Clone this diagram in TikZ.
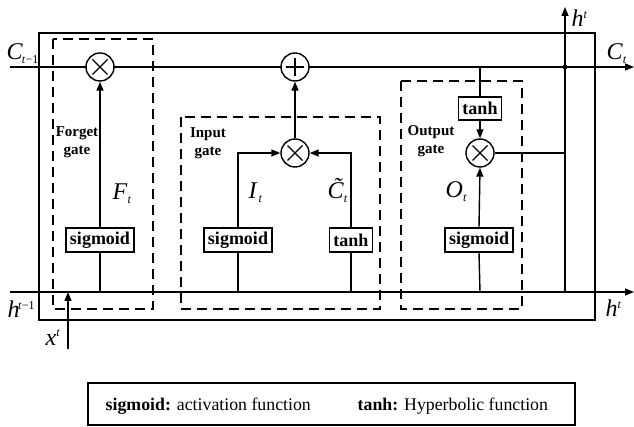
\documentclass[tikz,border=0pt]{standalone}
\usepackage{fontspec}
\setmainfont{Liberation Serif}
\usetikzlibrary{arrows.meta}
\newcommand{\subfont}{\fontsize{12}{12}\selectfont}
\newcommand{\ctilde}{\makebox[0pt][l]{\kern0.24em\raisebox{0.2em}{\textit{˜}}}\textit{C}}
\begin{document}
\begin{tikzpicture}[x=1pt,y=-1pt, line width=1.4pt,
  sbox/.style={draw, fill=white, font=\bfseries\fontsize{18}{18}\selectfont, inner xsep=4pt, inner ysep=0pt, minimum height=24pt},
  mult/.style={circle, draw, fill=white, minimum size=28pt, inner sep=0pt,
    path picture={\draw[line width=1.1pt]
      ([shift={(-7.5pt,-7.5pt)}]path picture bounding box.center) -- ([shift={(7.5pt,7.5pt)}]path picture bounding box.center)
      ([shift={(-7.5pt,7.5pt)}]path picture bounding box.center) -- ([shift={(7.5pt,-7.5pt)}]path picture bounding box.center);}},
  addc/.style={circle, draw, fill=white, minimum size=28pt, inner sep=0pt,
    path picture={\draw[line width=1.1pt]
      ([shift={(-9pt,0pt)}]path picture bounding box.center) -- ([shift={(9pt,0pt)}]path picture bounding box.center)
      ([shift={(0pt,-9pt)}]path picture bounding box.center) -- ([shift={(0pt,9pt)}]path picture bounding box.center);}},
  arr/.style={-{Triangle[length=9pt,width=7pt]}},
  gbox/.style={dash pattern=on 10pt off 6pt, line width=1.6pt},
  glabel/.style={font=\bfseries\fontsize{15}{18}\selectfont, align=center, inner sep=0pt},
  lbl/.style={font=\fontsize{24}{26}\selectfont, inner sep=0pt, anchor=base west},
  legtxt/.style={font=\fontsize{17.8}{18}\selectfont, inner sep=0pt, anchor=base west}
]
\useasboundingbox (0,0) rectangle (634,427);

% outer box
\draw (39,33) rectangle (595,320);

% gate boxes (dashed)
\draw[gbox] (53,39) rectangle (153,309);
\draw[gbox] (181,117) rectangle (380,309);
\draw[gbox] (401,81) rectangle (522,309);

% coordinates
\coordinate (cin) at (10,67);
\coordinate (cout) at (634,67);
\coordinate (hin) at (10,292);
\coordinate (hout) at (634,292);
\coordinate (fb) at (100,292);
\coordinate (ib) at (238,292);
\coordinate (tb) at (351,292);
\coordinate (ob) at (480,292);
\coordinate (oc) at (480,67);
\coordinate (hb) at (565,292);
\coordinate (hj) at (565,153);
\coordinate (htop) at (565,7);
\coordinate (xb) at (68,349);
\coordinate (xt) at (68,292);

% main lines
\draw[arr] (cin) -- (cout);
\draw[arr] (hin) -- (hout);

% nodes
\node[mult] (fx) at (100,67) {};
\node[addc] (plus) at (295,67) {};
\node[mult] (ix) at (295,153) {};
\node[mult] (ox) at (480,153) {};
\node[sbox] (fs) at (100,240) {sigmoid};
\node[sbox] (is) at (238,240) {sigmoid};
\node[sbox] (ts) at (351,240) {tanh};
\node[sbox] (os) at (479,240) {sigmoid};
\node[sbox, minimum height=23pt] (ot) at (480,108.5) {tanh};
\node[circle, fill, inner sep=0pt, minimum size=5pt] (jd) at (565,67) {};

% forget gate
\draw (fb) -- (fs.south);
\draw[arr] (fs.north) -- (fx.south);

% input gate
\draw (ib) -- (is.south);
\draw[arr] (is.north) |- (ix.west);
\draw (tb) -- (ts.south);
\draw[arr] (ts.north) |- (ix.east);
\draw[arr] (ix.north) -- (plus.south);

% output gate
\draw (oc) -- (ot.north);
\draw[arr] (ot.south) -- (ox.north);
\draw (ob) -- (os.south);
\draw[arr] (os.north) -- (ox.south);
\draw (ox.east) -- (hj);

% h^t output
\draw[arr] (hb) -- (htop);

% x^t input
\draw[arr] (xb) -- (xt);

% gate labels
\node[glabel] (fl) at (77,142) {Forget\\gate};
\node[glabel] (il) at (208,143) {Input\\gate};
\node[glabel] (ol) at (431,141) {Output\\gate};

% signal labels
\node[lbl] (lcin) at (6,60) {\textit{C}\raisebox{-0.3ex}{\subfont\kern-1pt\textit{t}−1}};
\node[lbl] (lcout) at (606,60) {\textit{C}\raisebox{-0.3ex}{\subfont\textit{t}}};
\node[lbl] (lhtop) at (571,27) {\textit{h}\raisebox{0.8ex}{\subfont\textit{t}}};
\node[lbl] (lhin) at (7,318) {\textit{h}\raisebox{0.8ex}{\subfont\kern-1.5pt\textit{t}−1}};
\node[lbl] (lhout) at (605,317) {\textit{h}\raisebox{0.8ex}{\subfont\textit{t}}};
\node[lbl] (lx) at (45,345) {\textit{x}\raisebox{0.8ex}{\subfont\textit{t}}};
\node[lbl] (lF) at (112,200) {\textit{F}\raisebox{-0.3ex}{\subfont\textit{t}}};
\node[lbl] (lI) at (248,199) {\textit{I}\raisebox{-0.3ex}{\subfont\kern1pt\textit{t}}};
\node[lbl] (lC) at (327,199) {\ctilde\raisebox{-0.3ex}{\subfont\textit{t}}};
\node[lbl] (lO) at (445,198) {\textit{O}\raisebox{-0.3ex}{\subfont\textit{t}}};

% legend
\draw (88,383) rectangle (575,425);
\node[legtxt] (lg1) at (105,410) {\textbf{sigmoid:} activation function};
\node[legtxt] (lg2) at (357,410) {\textbf{tanh:} Hyperbolic function};
\end{tikzpicture}
\end{document}
